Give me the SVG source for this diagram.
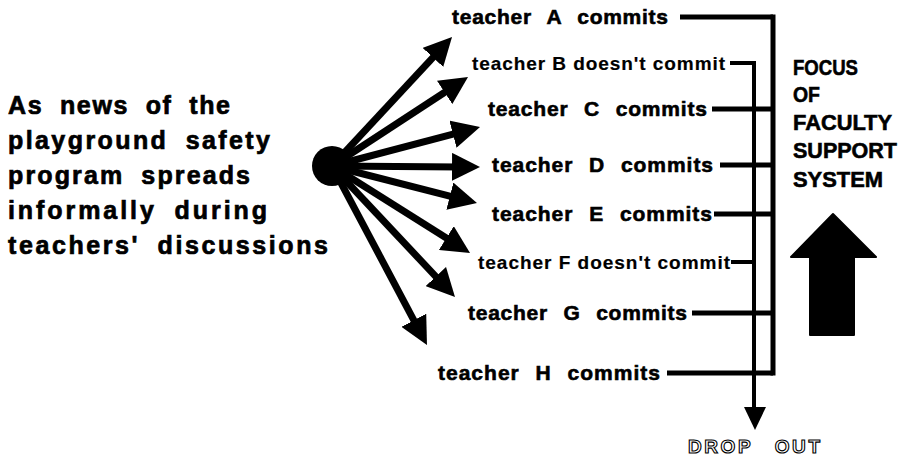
<svg xmlns="http://www.w3.org/2000/svg" width="903" height="459" viewBox="0 0 903 459">
<style>
text{font-family:"Liberation Sans",Arial,sans-serif;font-weight:bold;fill:#000}
.src{font-size:25px;stroke:#000;stroke-width:0.7;word-spacing:8px}
.t{font-size:21px;stroke:#000;stroke-width:0.6;word-spacing:9px}
.tn{font-size:19px;stroke:#000;stroke-width:0.2}
.f{font-size:22px;stroke:#000;stroke-width:0.6}
.drop{font-size:19px;fill:#fff;stroke:#000;stroke-width:1.1}
.sh{stroke:#000;stroke-width:7;fill:none}
.c{stroke:#000;stroke-width:5;fill:none}
.n{stroke:#000;stroke-width:4;fill:none}
.v{stroke:#000;stroke-width:5;fill:none}
</style>
<defs>
<marker id="ah" markerUnits="userSpaceOnUse" markerWidth="28" markerHeight="28" refX="8" refY="14" orient="auto">
<path d="M0,0 L28,14 L0,28 Z" fill="#000"/>
</marker>
</defs>
<rect width="903" height="459" fill="#fff"/>
<g id="connectors">
<line class="sh" x1="332" y1="166" x2="438.4" y2="51.6" marker-end="url(#ah)"/>
<line class="sh" x1="332" y1="166" x2="451.3" y2="88" marker-end="url(#ah)"/>
<line class="sh" x1="332" y1="166" x2="460.7" y2="132.1" marker-end="url(#ah)"/>
<line class="sh" x1="332" y1="166" x2="460" y2="166.9" marker-end="url(#ah)"/>
<line class="sh" x1="332" y1="166" x2="457.6" y2="198.1" marker-end="url(#ah)"/>
<line class="sh" x1="332" y1="166" x2="453.1" y2="242.3" marker-end="url(#ah)"/>
<line class="sh" x1="332" y1="166" x2="441.3" y2="282.4" marker-end="url(#ah)"/>
<line class="sh" x1="332" y1="166" x2="417.6" y2="327.3" marker-end="url(#ah)"/>
<line class="c" x1="680" y1="17" x2="773" y2="17"/>
<line class="c" x1="712" y1="109" x2="773" y2="109"/>
<line class="c" x1="720" y1="165" x2="773" y2="165"/>
<line class="c" x1="714" y1="214" x2="773" y2="214"/>
<line class="c" x1="692" y1="313" x2="773" y2="313"/>
<line class="c" x1="667" y1="373" x2="773" y2="373"/>
<line class="n" x1="730" y1="63" x2="754" y2="63"/>
<line class="n" x1="731" y1="262" x2="754" y2="262"/>
<line class="v" x1="773" y1="14.5" x2="773" y2="375.5"/>
<line class="n" x1="754" y1="61" x2="754" y2="410"/>
<polygon points="744,407 766,407 755,430" fill="#000"/>
</g>
<g id="source">
<text class="src" x="8" y="114" textLength="222" lengthAdjust="spacing">As news of the</text>
<text class="src" x="8" y="149" textLength="262" lengthAdjust="spacing">playground safety</text>
<text class="src" x="8" y="184" textLength="242" lengthAdjust="spacing">program spreads</text>
<text class="src" x="8" y="219" textLength="259" lengthAdjust="spacing">informally during</text>
<text class="src" x="8" y="254" textLength="320" lengthAdjust="spacing">teachers' discussions</text>
</g>
<g id="dot"><circle cx="332" cy="166" r="20" fill="#000"/></g>
<g id="teacherA"><text class="t" x="452" y="24" textLength="216" lengthAdjust="spacing">teacher A commits</text></g>
<g id="teacherB"><text class="tn" x="472" y="70" textLength="253" lengthAdjust="spacing">teacher B doesn't commit</text></g>
<g id="teacherC"><text class="t" x="488" y="116" textLength="219" lengthAdjust="spacing">teacher C commits</text></g>
<g id="teacherD"><text class="t" x="492" y="172" textLength="221" lengthAdjust="spacing">teacher D commits</text></g>
<g id="teacherE"><text class="t" x="492" y="221" textLength="220" lengthAdjust="spacing">teacher E commits</text></g>
<g id="teacherF"><text class="tn" x="478" y="269" textLength="252" lengthAdjust="spacing">teacher F doesn't commit</text></g>
<g id="teacherG"><text class="t" x="468" y="320" textLength="219" lengthAdjust="spacing">teacher G commits</text></g>
<g id="teacherH"><text class="t" x="438" y="380" textLength="222" lengthAdjust="spacing">teacher H commits</text></g>
<g id="focus">
<text class="f" x="793" y="75" textLength="65" lengthAdjust="spacingAndGlyphs">FOCUS</text>
<text class="f" x="793" y="102" textLength="27" lengthAdjust="spacingAndGlyphs">OF</text>
<text class="f" x="793" y="130" textLength="99" lengthAdjust="spacingAndGlyphs">FACULTY</text>
<text class="f" x="793" y="158" textLength="104" lengthAdjust="spacingAndGlyphs">SUPPORT</text>
<text class="f" x="793" y="187" textLength="90" lengthAdjust="spacingAndGlyphs">SYSTEM</text>
</g>
<g id="focus-arrow">
<path d="M833,214 L876,257 L854,257 L854,335 L810,335 L810,257 L791,257 Z" fill="#000" stroke="#000" stroke-width="2" stroke-linejoin="round"/>
</g>
<g id="dropout">
<text class="drop" x="688" y="453" textLength="132" lengthAdjust="spacing" word-spacing="14">DROP OUT</text>
</g>
</svg>
